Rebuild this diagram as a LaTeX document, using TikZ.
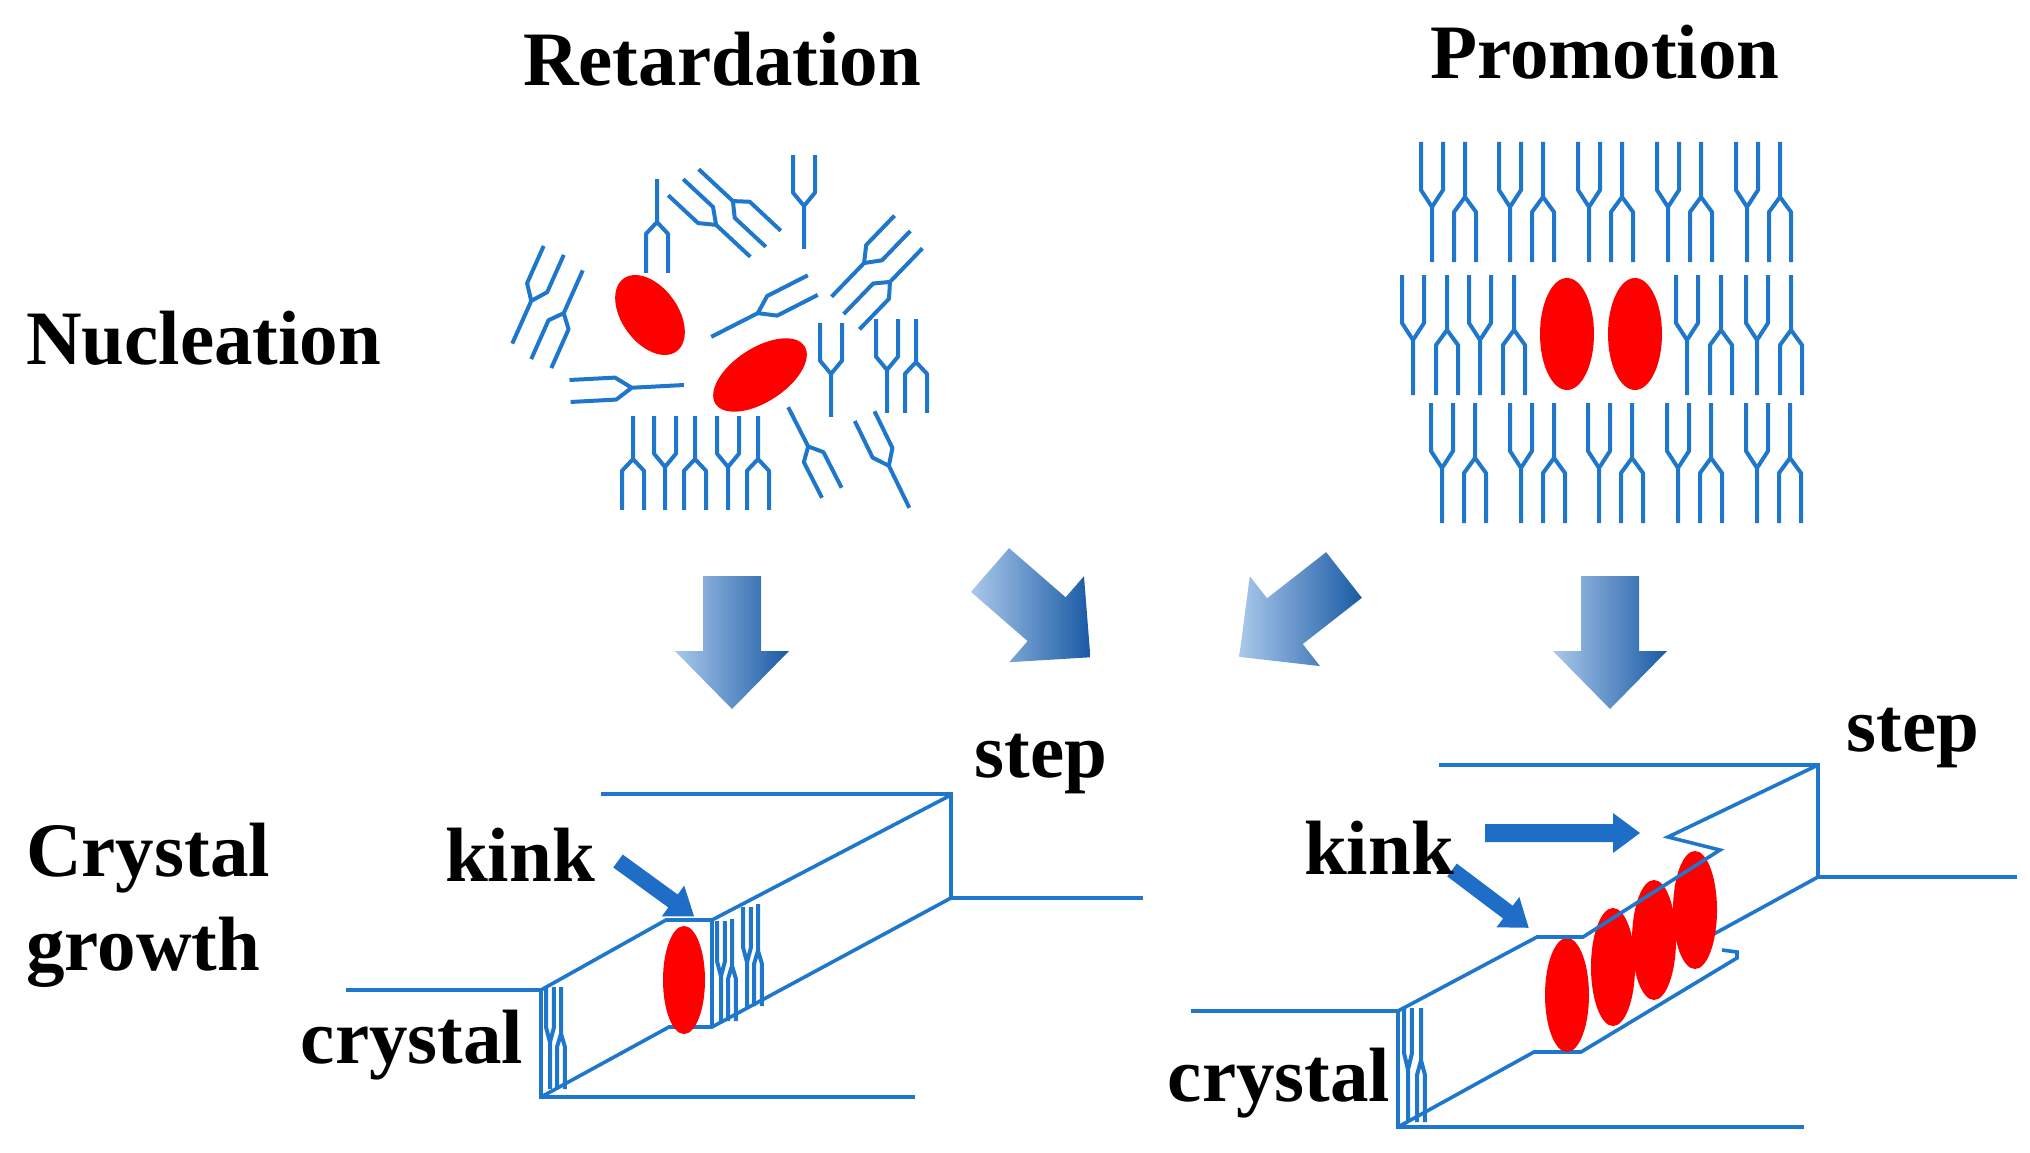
\documentclass[tikz,border=0pt]{standalone}
\usepackage{fontspec}
\setmainfont{Liberation Serif}
\begin{document}
\begin{tikzpicture}[x=1pt,y=-1pt,
  mol/.style={draw=molblue,line width=4pt,line join=round},
  edge/.style={draw=molblue,line width=3.6pt,line join=miter},
  lbl/.style={font=\fontsize{77}{94}\selectfont\bfseries,inner sep=0pt},
  Y/.pic={\draw[mol] (-11,-60)--(-11,-12)--(0,5)--(0,60) (11,-60)--(11,-12)--(0,5);},
  L/.pic={\draw[mol] (0,-60)--(0,-5)--(-11,10)--(-11,60) (0,-5)--(11,10)--(11,60);},
  redE/.style={fill=red}]
\definecolor{molblue}{RGB}{31,119,204}
\definecolor{arlight}{RGB}{170,200,235}
\definecolor{ardark}{RGB}{25,90,165}
\definecolor{arblue}{RGB}{30,110,200}
\useasboundingbox (0,0) rectangle (2030,1153);
% titles
\node[lbl] (tR) at (722,59) {Retardation};
\node[lbl] (tP) at (1605,52) {Promotion};
\node[lbl,anchor=west] (tN) at (26,338) {Nucleation};
\node[lbl,anchor=west,align=left] (tC) at (26,905) {Crystal\\growth};
% ---- left nucleation (random)
\pic at (657,226) [yscale=.78] {L};
\pic at (804,202) [yscale=.78] {Y};
\foreach \x/\k in {633/L,665/Y,695/L,728/Y,758/L} \pic at (\x,463) [yscale=.78] {\k};
\pic at (831,370) [yscale=.78] {Y};
\pic at (887,366) [yscale=.78] {Y};
\pic at (916,366) [yscale=.78] {L};
\pic at (713,222) [rotate=47,yscale=.85] {Y};
\pic at (736,204) [rotate=47,yscale=.85] {L};
\pic at (533,297) [rotate=-24,yscale=.85] {Y};
\pic at (562,317) [rotate=-24,yscale=.85] {L};
\pic at (867,260) [rotate=-44,yscale=.85] {Y};
\pic at (887,285) [rotate=-44,yscale=.85] {L};
\pic at (762,311) [rotate=-63,yscale=.95] {Y};
\pic at (627,388) [rotate=93,yscale=.95] {Y};
\pic at (810,450) [rotate=27,yscale=.8] {L};
\pic at (887,462) [rotate=26,yscale=.85] {Y};
\fill[redE,rotate around={-54:(650,315)}] (650,315) ellipse [x radius=45,y radius=28];
\fill[redE,rotate around={33:(760,375)}] (760,375) ellipse [x radius=53,y radius=27];
% ---- right nucleation (ordered)
\foreach \x in {1432,1510,1589,1668,1747} {\pic at (\x,202) {Y}; \pic at (\x+33,202) {L};}
\foreach \x in {1413,1480,1687,1757} {\pic at (\x,335) {Y}; \pic at (\x+34,335) {L};}
\foreach \x in {1442,1521,1599,1678,1757} {\pic at (\x,463) {Y}; \pic at (\x+33,463) {L};}
\fill[redE] (1567,334) ellipse [x radius=27,y radius=56];
\fill[redE] (1635,334) ellipse [x radius=27,y radius=56];
% ---- big arrows
\def\bigarrow{(0,-29) -- (75,-29) -- (75,-57) -- (133,0) -- (75,57) -- (75,29) -- (0,29) -- cycle}
\shade[shift={(732,576)},rotate=-90,left color=arlight,right color=ardark] \bigarrow;
\shade[shift={(1610,576)},rotate=-90,left color=arlight,right color=ardark] \bigarrow;
\shade[shift={(990,570)},rotate=-41,left color=arlight,right color=ardark] \bigarrow;
\shade[shift={(1344,575)},rotate=-142,left color=arlight,right color=ardark] \bigarrow;
% ---- left crystal
\draw[edge] (601,794)--(951,794)--(951,898)--(1143,898);
\draw[edge] (346,990)--(541,990)--(541,1097)--(915,1097);
\draw[edge] (541,990)--(666,920)--(712,920)--(951,795);
\draw[edge] (541,1097)--(669,1027)--(712,1027)--(951,898);
\draw[edge] (712,920)--(712,1027);
\pic at (550,1038) [xscale=.35,yscale=.85] {Y};
\pic at (561,1038) [xscale=.35,yscale=.85] {L};
\pic at (721,972) [xscale=.35,yscale=.85] {Y};
\pic at (732,970) [xscale=.35,yscale=.85] {L};
\pic at (747,958) [xscale=.35,yscale=.85] {Y};
\pic at (758,955) [xscale=.35,yscale=.85] {L};
\fill[redE] (684,980) ellipse [x radius=21,y radius=54];
\fill[arblue,shift={(618,861)},rotate=-36] (0,-8)--(68,-8)--(68,-19)--(94,0)--(68,19)--(68,8)--(0,8)--cycle;
\node[lbl] (kL) at (520,855) {kink};
\node[lbl] (sL) at (1041,764) {step};
\node[lbl] (cL) at (412,1045) {crystal};
% ---- right crystal
\draw[edge] (1439,765)--(1818,765)--(1818,877)--(2017,877);
\draw[edge] (1191,1011)--(1398,1011)--(1398,1127)--(1804,1127);
\draw[edge] (1398,1127)--(1534,1052)--(1581,1052)--(1737,958)--(1737,952)--(1722,950);
\draw[edge] (1712,935)--(1818,877);
\pic at (1408,1065) [xscale=.35,yscale=.95] {Y};
\pic at (1421,1065) [xscale=.35,yscale=.95] {L};
\fill[redE] (1567,995) ellipse [x radius=22,y radius=57];
\fill[redE] (1613,967) ellipse [x radius=22,y radius=59];
\fill[redE] (1654,940) ellipse [x radius=22,y radius=60];
\fill[redE] (1695,910) ellipse [x radius=22,y radius=59];
\draw[edge] (1398,1011)--(1537,937)--(1583,937)--(1720,850)--(1668,837)--(1818,765);
\fill[arblue,shift={(1485,833)}] (0,-9)--(128,-9)--(128,-20)--(155,0)--(128,20)--(128,9)--(0,9)--cycle;
\fill[arblue,shift={(1452,870)},rotate=-37] (0,-8)--(70,-8)--(70,-19)--(96,0)--(70,19)--(70,8)--(0,8)--cycle;
\node[lbl] (sR) at (1913,738) {step};
\node[lbl] (kR) at (1379,848) {kink};
\node[lbl] (cR) at (1279,1083) {crystal};
\end{tikzpicture}
\end{document}
